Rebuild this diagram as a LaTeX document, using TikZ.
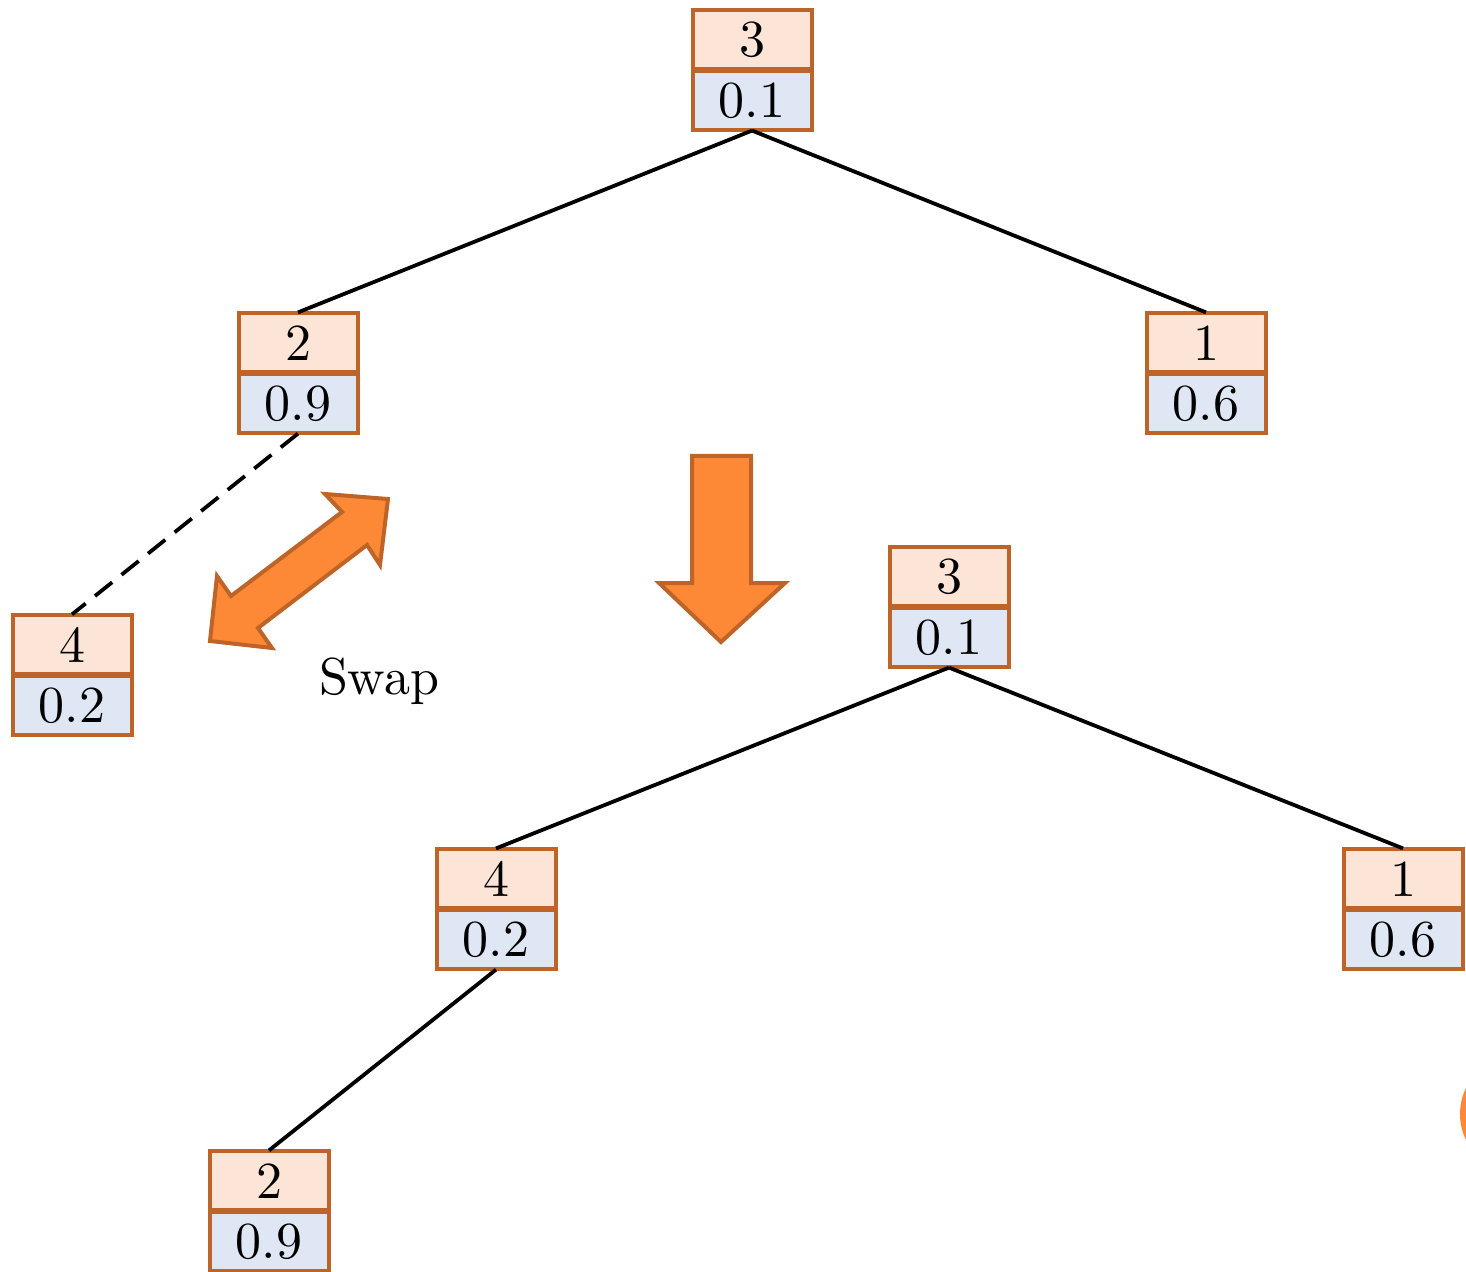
\documentclass[tikz,border=0pt]{standalone}
\usepackage{graphicx}
\definecolor{bord}{HTML}{BE6428}
\definecolor{peach}{HTML}{FCE5D6}
\definecolor{bluec}{HTML}{DFE7F4}
\definecolor{arrfill}{HTML}{FD8937}
\newcommand{\bigtxt}[1]{\scalebox{2.6}{\fontsize{10}{12}\selectfont #1}}
\tikzset{
  cell/.style={draw=bord, line width=2pt, minimum width=59.5pt, minimum height=29.5pt, inner sep=0pt, outer sep=0.4pt},
  topcell/.style={cell, fill=peach, anchor=south},
  botcell/.style={cell, fill=bluec, anchor=north},
  edge/.style={line width=1.9pt, black},
  dashedge/.style={edge, dash pattern=on 11pt off 6pt},
  bigarrow/.style={fill=arrfill, draw=bord, line width=2pt, line join=miter},
  lbl/.style={inner sep=0pt}
}
\newcommand{\heapnode}[5]{%
  \node[topcell] (#1-t) at (#2,#3) {\raisebox{-0.8pt}{\bigtxt{#4}}};
  \node[botcell] (#1-b) at (#2,#3) {\raisebox{-1.5pt}{\bigtxt{#5}}};
}
\begin{document}
\begin{tikzpicture}[x=0.5pt, y=-0.5pt]
\useasboundingbox (0,0) rectangle (1466,1272);
\begin{scope}
\clip (0,0) rectangle (1466,1272);
% nodes
\heapnode{A}{752}{70}{3}{0.1}
\heapnode{B}{298}{373}{2}{0.9}
\heapnode{C}{1206}{373}{1}{0.6}
\heapnode{D}{72}{675}{4}{0.2}
\heapnode{E}{949}{607}{3}{0.1}
\heapnode{F}{496}{909}{4}{0.2}
\heapnode{G}{1403}{909}{1}{0.6}
\heapnode{H}{269}{1211}{2}{0.9}
% edges
\draw[edge] (A-b.south) -- (B-t.north);
\draw[edge] (A-b.south) -- (C-t.north);
\draw[dashedge] (B-b.south) -- (D-t.north);
\draw[edge] (E-b.south) -- (F-t.north);
\draw[edge] (E-b.south) -- (G-t.north);
\draw[edge] (F-b.south) -- (H-t.north);
% down arrow
\draw[bigarrow] (692,456) -- (751,456) -- (751,583) -- (785,583) -- (721,642) -- (659,583) -- (692,583) -- cycle;
% swap arrow
\draw[bigarrow] (388,499) -- (380,565) -- (367,545) -- (258,628) -- (272,648) -- (210,641)
  -- (217,576) -- (231,596) -- (342,512) -- (325,494) -- cycle;
\node[lbl] (swap) at (379,681) {\bigtxt{Swap}};
% partial circle at right edge
\fill[arrfill] (1520,1114) circle (60);
\end{scope}
\end{tikzpicture}
\end{document}
